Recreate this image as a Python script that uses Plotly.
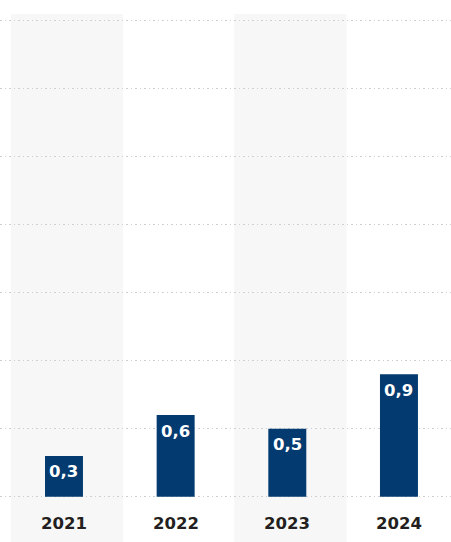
import plotly.graph_objects as go

years = ["2021", "2022", "2023", "2024"]
values = [0.3, 0.6, 0.5, 0.9]
value_labels = ["0,3", "0,6", "0,5", "0,9"]
shaded_years = ["2021", "2023"]

BAR = "#033a70"
BAND = "#f7f7f7"
FONT = "'DejaVu Sans', sans-serif"
PX_PER_UNIT = 136.0

x = list(range(len(years)))
fig = go.Figure()
fig.add_trace(go.Bar(x=x, y=values, width=0.34, marker=dict(color=BAR, line=dict(width=0)),
                     hoverinfo="skip"))

shapes = []
for i, yr in enumerate(years):
    if yr in shaded_years:
        shapes.append(dict(type="rect", xref="x", yref="y", x0=i - 0.475, x1=i + 0.53,
                           y0=-0.4, y1=3.549, fillcolor=BAND, line=dict(width=0), layer="below"))

annotations = []
for i, (v, lab) in enumerate(zip(values, value_labels)):
    shift = -min(16, v * PX_PER_UNIT / 2 - 1)
    annotations.append(dict(x=i, y=v, text="<b>%s</b>" % lab, showarrow=False, yshift=shift,
                            font=dict(family=FONT, size=16.5, color="white")))
for i, yr in enumerate(years):
    annotations.append(dict(x=i, y=-0.196, text="<b>%s</b>" % yr, showarrow=False,
                            font=dict(family=FONT, size=16.5, color="#231f20")))

fig.update_layout(
    width=451, height=542,
    margin=dict(l=0, r=0, t=0, b=0),
    paper_bgcolor="white", plot_bgcolor="white",
    showlegend=False,
    shapes=shapes, annotations=annotations,
    xaxis=dict(range=[-0.573, 3.466], showticklabels=False, showgrid=False, zeroline=False,
               fixedrange=True),
    yaxis=dict(range=[-0.333, 3.652], dtick=0.5, tick0=0, showticklabels=False,
               showgrid=True, gridcolor="#cfcfcf", griddash="1.5px,3px", gridwidth=1,
               zeroline=False, fixedrange=True),
)
fig.write_html("out.html", config={"displayModeBar": False},
               post_script="document.body.style.margin='0';document.body.style.padding='0';")
